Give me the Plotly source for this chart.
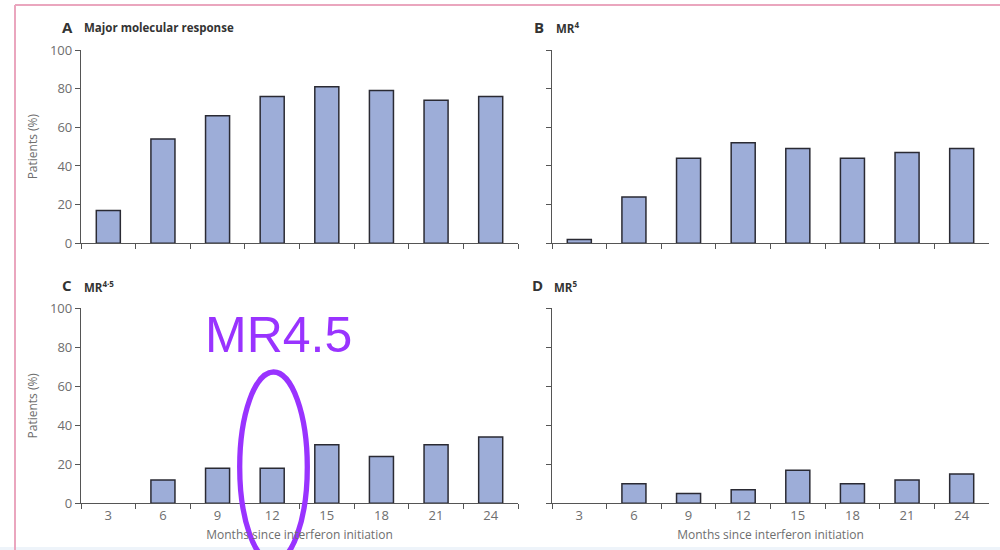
import plotly.graph_objects as go

months = ["3", "6", "9", "12", "15", "18", "21", "24"]
mmr = [17, 54, 66, 76, 81, 79, 74, 76]
mr4 = [2, 24, 44, 52, 49, 44, 47, 49]
mr45 = [0, 12, 18, 18, 30, 24, 30, 34]
mr5 = [0, 10, 5, 7, 17, 10, 12, 15]
y_ticks = [0, 20, 40, 60, 80, 100]
panel_letters = ["A", "B", "C", "D"]
panel_names = ["Major molecular response", "MR<sup>4</sup>", "MR<sup>4·5</sup>", "MR<sup>5</sup>"]
x_title = "Months since interferon initiation"
y_title = "Patients (%)"
note_text = "MR4.5"

W, H = 1000, 550
def px(x):
    return x / W
def py(y):
    return 1 - y / H

BAR = "#9dadd8"
EDGE = "#2a2a33"
AXIS = "#555555"
TXT = "#6e6e6e"
FONT = "Open Sans, Lato, sans-serif"

fig = go.Figure()
series = [mmr, mr4, mr45, mr5]
xdom = [(81, 518), (552, 989), (81, 518), (552, 989)]
ydom = [(243.3, 50), (243.3, 50), (503.3, 308.3), (503.3, 308.3)]

for i, vals in enumerate(series):
    n = "" if i == 0 else str(i + 1)
    fig.add_trace(go.Bar(x=months, y=vals, xaxis="x" + n, yaxis="y" + n,
                         width=0.44,
                         marker=dict(color=BAR, line=dict(color=EDGE,
                                     width=[0 if v == 0 else 1.5 for v in vals])),
                         showlegend=False, hoverinfo="x+y"))
    bottom = i >= 2
    left = i % 2 == 0
    xa = dict(domain=[px(xdom[i][0]), px(xdom[i][1])], anchor="y" + n,
              type="category", range=[-0.5, 7.5], tickson="boundaries",
              ticks="outside", ticklen=5, tickwidth=1.3, tickcolor=AXIS,
              showline=True, linecolor=AXIS, linewidth=1.3,
              showgrid=False, zeroline=False, showticklabels=bottom,
              tickfont=dict(family=FONT, size=13, color=TXT), fixedrange=True,
              automargin=False)
    if bottom:
        xa["title"] = dict(text=x_title, font=dict(family=FONT, size=12, color=TXT), standoff=7)
    ya = dict(domain=[py(ydom[i][0]), py(ydom[i][1])], anchor="x" + n,
              range=[0, 100], tickvals=y_ticks, ticks="outside", ticklen=5,
              tickwidth=1.3, tickcolor=AXIS, showline=True, linecolor=AXIS,
              linewidth=1.3, showgrid=False, zeroline=False,
              showticklabels=left, tickfont=dict(family=FONT, size=13, color=TXT),
              fixedrange=True, automargin=False)
    if left:
        ya["title"] = dict(text=y_title, font=dict(family=FONT, size=12, color=TXT), standoff=9)
    fig.update_layout(**{"xaxis" + n: xa, "yaxis" + n: ya})

title_pos = [(60, 27), (532, 27), (60, 285), (530, 285)]
for i in range(4):
    x0, y0 = title_pos[i]
    fig.add_annotation(x=px(x0), y=py(y0), xref="paper", yref="paper",
                       xanchor="left", yanchor="middle", showarrow=False,
                       text="<b>" + panel_letters[i] + "</b>",
                       font=dict(family=FONT, size=15, color="#333333"))
    fig.add_annotation(x=px(x0 + 22), y=py(y0 + 1), xref="paper", yref="paper",
                       xanchor="left", yanchor="middle", showarrow=False,
                       text="<b>" + panel_names[i] + "</b>",
                       font=dict(family=FONT, size=11.5, color="#333333"))

fig.add_annotation(x=px(278), y=py(335), xref="paper", yref="paper",
                   xanchor="center", yanchor="middle", showarrow=False,
                   text=note_text, font=dict(family="Liberation Sans, Arial", size=50, color="#9933ff"))

shapes = [
    dict(type="line", xref="paper", yref="paper", x0=px(15), x1=1, y0=py(5), y1=py(5),
         line=dict(color="#eaa6be", width=2)),
    dict(type="line", xref="paper", yref="paper", x0=px(15), x1=px(15), y0=py(5), y1=0,
         line=dict(color="#eaa6be", width=2)),
    dict(type="rect", xref="paper", yref="paper", x0=0, x1=1, y0=0, y1=py(547),
         fillcolor="#eef4fa", line=dict(width=0), layer="below"),
    dict(type="circle", xref="paper", yref="paper", x0=px(239.7), x1=px(307.3),
         y0=py(372), y1=py(562), line=dict(color="#9933ff", width=5.3)),
]
fig.update_layout(shapes=shapes, width=W, height=H,
                  margin=dict(l=0, r=0, t=0, b=0, autoexpand=False),
                  paper_bgcolor="white", plot_bgcolor="rgba(0,0,0,0)",
                  bargap=0.56, font=dict(family=FONT))

fig.write_html("out.html", config={"displayModeBar": False})
